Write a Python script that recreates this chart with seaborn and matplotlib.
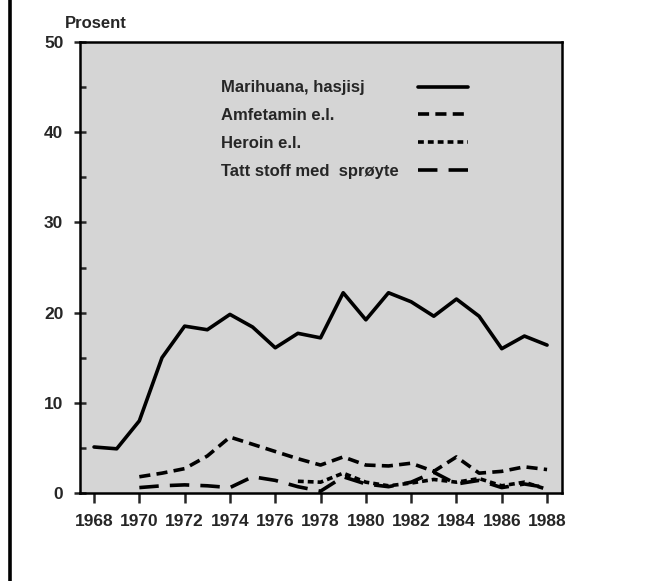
import numpy as np
import pandas as pd
import seaborn as sns
import matplotlib.pyplot as plt
from matplotlib.lines import Line2D
from matplotlib.ticker import MultipleLocator

# data (percent)
years = list(range(1968, 1989))
marihuana = [5.1, 4.9, 8.0, 15.0, 18.5, 18.1, 19.8, 18.4, 16.1, 17.7, 17.2,
             22.2, 19.2, 22.2, 21.2, 19.6, 21.5, 19.6, 16.0, 17.4, 16.4]
amfetamin = [None, None, 1.8, 2.2, 2.7, 4.1, 6.2, 5.4, 4.6, 3.8, 3.1,
             4.0, 3.1, 3.0, 3.3, 2.4, 4.0, 2.2, 2.4, 2.9, 2.6]
heroin = [None, None, None, None, None, None, None, None, None, 1.3, 1.2,
          2.2, 1.2, 0.8, 1.1, 1.5, 1.2, 1.6, 0.8, 1.2, 0.4]
sproyte = [None, None, 0.6, 0.8, 0.9, 0.8, 0.6, 1.8, 1.4, 0.7, 0.2,
           1.8, 1.0, 0.7, 1.2, 2.3, 1.0, 1.4, 0.6, 1.0, 0.6]

series = ["Marihuana, hasjisj", "Amfetamin e.l.", "Heroin e.l.",
          "Tatt stoff med  sprøyte"]
x_ticks = list(range(1968, 1989, 2))

df = pd.DataFrame({
    "year": years * 4,
    "value": marihuana + amfetamin + heroin + sproyte,
    "serie": [s for s in series for _ in years],
}).dropna()
df["value"] = df["value"].astype(float)

sns.set_style("ticks")
plt.rcParams["font.family"] = ["Liberation Sans", "DejaVu Sans"]
plt.rcParams["font.weight"] = "bold"
plt.rcParams["lines.scale_dashes"] = False

dash_map = {
    series[0]: "",
    series[1]: (8, 4.5),
    series[2]: (4.2, 2.9),
    series[3]: (14, 8),
}

fig = plt.figure(figsize=(6.45, 5.81), dpi=100)
ax = fig.add_axes([80 / 645, 1 - 493 / 581, 482 / 645, 451 / 581])
ax.set_facecolor("#d5d5d5")

sns.lineplot(data=df, x="year", y="value", hue="serie", style="serie",
             hue_order=series, style_order=series,
             palette=["black"] * 4, dashes=dash_map, linewidth=2.6,
             estimator=None, legend=False, ax=ax)

ax.set_xlim(1967.38, 1988.66)
ax.set_ylim(0, 50)
ax.set_xticks(x_ticks)
ax.set_xticklabels([str(y) for y in x_ticks])
ax.yaxis.set_major_locator(MultipleLocator(10))
ax.yaxis.set_minor_locator(MultipleLocator(5))
ax.tick_params(axis="x", direction="out", length=7, width=1.8,
               labelsize=12.5, pad=8)
ax.tick_params(axis="y", which="major", direction="inout", length=8,
               width=1.8, labelsize=12.5, pad=8)
ax.tick_params(axis="y", which="minor", direction="in", length=4, width=1.8)
for sp in ax.spines.values():
    sp.set_visible(True)
    sp.set_linewidth(1.8)
    sp.set_color("black")

ax.set_xlabel("")
ax.set_ylabel("Prosent", rotation=0, fontsize=12, fontweight="bold",
              ha="left", va="center")
ax.yaxis.set_label_coords(-0.031, 1.04)

# legend: labels on the left, line samples aligned on the right
handles = [Line2D([], [], color="black", lw=2.6,
                  dashes=dash_map[s] if dash_map[s] else (None, None))
           for s in series]
blank = [Line2D([], [], color="none") for s in series]
leg_text = ax.legend(blank, series, loc="upper left",
                     bbox_to_anchor=(0.293, 0.915), frameon=False,
                     handlelength=0, handletextpad=0, fontsize=12,
                     labelspacing=0.77, borderpad=0, borderaxespad=0)
ax.add_artist(leg_text)
ax.legend(handles, [" "] * 4, loc="upper left",
          bbox_to_anchor=(0.702, 0.915), frameon=False,
          handlelength=3.0, handletextpad=0, fontsize=12,
          labelspacing=0.77, borderpad=0, borderaxespad=0)

# page frame line on the left
fig.add_artist(Line2D([10 / 645, 10 / 645], [0, 1], color="black", lw=2.6,
                      transform=fig.transFigure))

fig.savefig("out.png", dpi=100)
